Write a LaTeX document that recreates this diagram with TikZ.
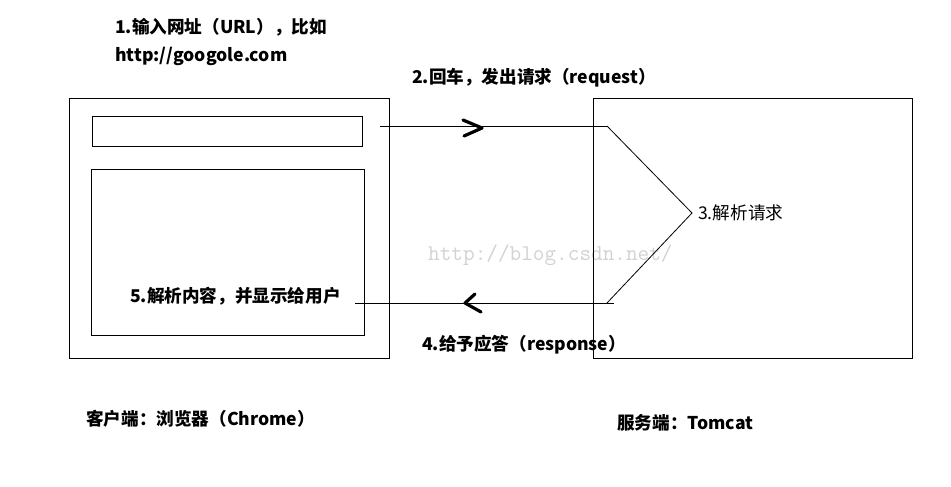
\documentclass[tikz,border=0pt]{standalone}
\usepackage{fontspec}
\setmainfont{Noto Sans CJK SC}
\tikzset{
    box/.style={draw, line width=1.2pt, inner sep=0pt, anchor=north west},
    label/.style={inner sep=0pt, anchor=west, font=\fontsize{17.6}{20}\selectfont\bfseries},
    note/.style={inner sep=0pt, anchor=west, font=\fontsize{17.6}{20}\selectfont},
    wire/.style={line width=1pt},
    slope/.style={line width=0.8pt},
    chev/.style={line width=3.2pt, line cap=round, line join=round},
}
\begin{document}
\begin{tikzpicture}[x=1pt, y=-1pt]
    \useasboundingbox (0,0) rectangle (951,487);
    % watermark
    \node[inner sep=0pt, anchor=west, text=gray!35, font=\ttfamily\fontsize{22.6}{24}\selectfont] (mark) at (428,255) {http://blog.csdn.net/};
    % client
    \node[box, minimum width=320pt, minimum height=260pt] (client) at (69,98) {};
    \node[box, minimum width=270pt, minimum height=30pt] (urlbar) at (92,116) {};
    \node[box, minimum width=273pt, minimum height=166pt] (content) at (91,169) {};
    % server
    \node[box, minimum width=319pt, minimum height=260pt] (server) at (593,98) {};
    % request
    \coordinate (req start) at (380,126);
    \coordinate (req end) at (607,126);
    \coordinate (fork) at (692,213);
    \coordinate (resp corner) at (607,303);
    \coordinate (resp start) at (614,303);
    \coordinate (resp end) at (355,303);
    \draw[wire] (req start) -- (req end);
    \draw[slope] (req end) -- (fork) -- (resp corner);
    \draw[wire] (resp start) -- (resp end);
    % chevrons
    \draw[chev] (463,120) -- (482,128) -- (464,136);
    \draw[chev] (475,294) -- (465,303) -- (481,312);
    % texts
    \node[label] (step one) at (115,27) {1.输入网址（URL），比如};
    \node[label] (link) at (115,56) {http://googole.com};
    \node[label] (step two) at (412,78) {2.回车，发出请求（request）};
    \node[note] (step three) at (698,213) {3.解析请求};
    \node[label] (step four) at (422,345) {4.给予应答（response）};
    \node[label] (step five) at (130,296) {5.解析内容，并显示给用户};
    \node[label] (browser) at (86,419) {客户端：浏览器（Chrome）};
    \node[label] (tomcat) at (617,423) {服务端：Tomcat};
\end{tikzpicture}
\end{document}
